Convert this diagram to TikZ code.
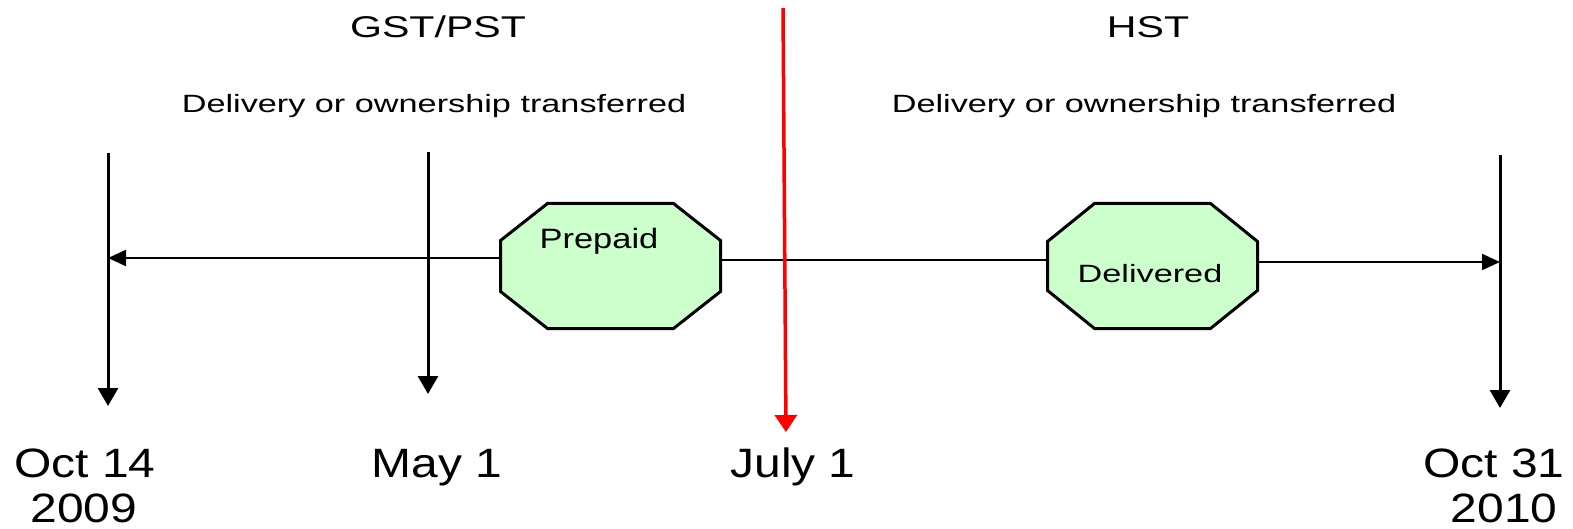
\documentclass[tikz,border=0pt]{standalone}
\usepackage{fontspec}
\setmainfont{Liberation Sans}
\newfontfamily\headfont[FakeStretch=1.37]{Liberation Sans}
\newfontfamily\notefont[FakeStretch=1.37]{Liberation Sans}
\newfontfamily\prepfont[FakeStretch=1.23]{Liberation Sans}
\newfontfamily\datefont[FakeStretch=1.17]{Liberation Sans}
\usetikzlibrary{arrows.meta}
\definecolor{stategreen}{RGB}{204,255,204}
\tikzset{
  txt/.style={inner sep=0pt, anchor=base, text=black},
  head/.style={txt, font=\headfont\fontsize{30pt}{36pt}\selectfont},
  note/.style={txt, font=\notefont\fontsize{25pt}{30pt}\selectfont},
  prep/.style={txt, font=\prepfont\fontsize{28pt}{33pt}\selectfont},
  datelbl/.style={txt, font=\datefont\fontsize{41pt}{48pt}\selectfont},
  tick/.style={line width=3pt, -{Triangle[length=18pt,width=20pt]}},
  link/.style={line width=2pt},
  linkarrow/.style={link, -{Triangle[length=18pt,width=16pt]}},
  octo/.style={draw=black, line width=3pt, fill=stategreen, line join=miter},
  cut/.style={line width=3.5pt, draw=red, -{Triangle[length=17pt,width=22pt]}}
}
% octagonal state box: name, x, y, width, height, horizontal cut, vertical cut
\newcommand\stateoct[7]{%
  \node[minimum width=#4, minimum height=#5, inner sep=0pt, outer sep=0pt] (#1) at (#2,#3) {};
  \draw[octo] ([xshift=#6]#1.north west) -- ([xshift=-#6]#1.north east)
    -- ([yshift=-#7]#1.north east) -- ([yshift=#7]#1.south east)
    -- ([xshift=-#6]#1.south east) -- ([xshift=#6]#1.south west)
    -- ([yshift=#7]#1.south west) -- ([yshift=-#7]#1.north west) -- cycle;
}
\begin{document}
\begin{tikzpicture}[x=1pt, y=-1pt]
\useasboundingbox (0,0) rectangle (1573,529);

% headings
\node[head] (gst) at (438,38) {GST/PST};
\node[head] (hst) at (1148,38) {HST};
\node[note] (noteL) at (434,113) {Delivery or ownership transferred};
\node[note] (noteR) at (1144,113) {Delivery or ownership transferred};

% date ticks
\coordinate (a14) at (108,153);
\coordinate (b14) at (108,406);
\coordinate (amay) at (428,152);
\coordinate (bmay) at (428,394);
\coordinate (a31) at (1500,155);
\coordinate (b31) at (1500,408);
\coordinate (rtop) at (783,8);
\coordinate (rbot) at (786,432);

\draw[tick] (a14) -- (b14);
\draw[tick] (amay) -- (bmay);
\draw[tick] (a31) -- (b31);

% states
\stateoct{pre}{610.5}{266}{220pt}{125pt}{47pt}{37pt}
\stateoct{del}{1152.5}{266}{210pt}{125pt}{47pt}{38pt}
\node[prep] (preT) at (599,248) {Prepaid};
\node[note] (delT) at (1150,282) {Delivered};

% timeline connectors
\draw[linkarrow] ([yshift=8pt]pre.west) -- ([yshift=8pt]pre.west -| a14);
\draw[link] ([yshift=6pt]pre.east) -- ([yshift=6pt]del.west);
\draw[linkarrow] ([yshift=4pt]del.east) -- ([yshift=4pt]del.east -| a31);

% cut-over date
\draw[cut] (rtop) -- (rbot);

% date labels
\node[datelbl] (d14) at (85,477) {Oct 14};
\node[datelbl] (y09) at (84,522) {2009};
\node[datelbl] (dmay) at (437,477) {May 1};
\node[datelbl] (djul) at (793,477) {July 1};
\node[datelbl] (d31) at (1494,477) {Oct 31};
\node[datelbl] (y10) at (1504,522) {2010};
\end{tikzpicture}
\end{document}
